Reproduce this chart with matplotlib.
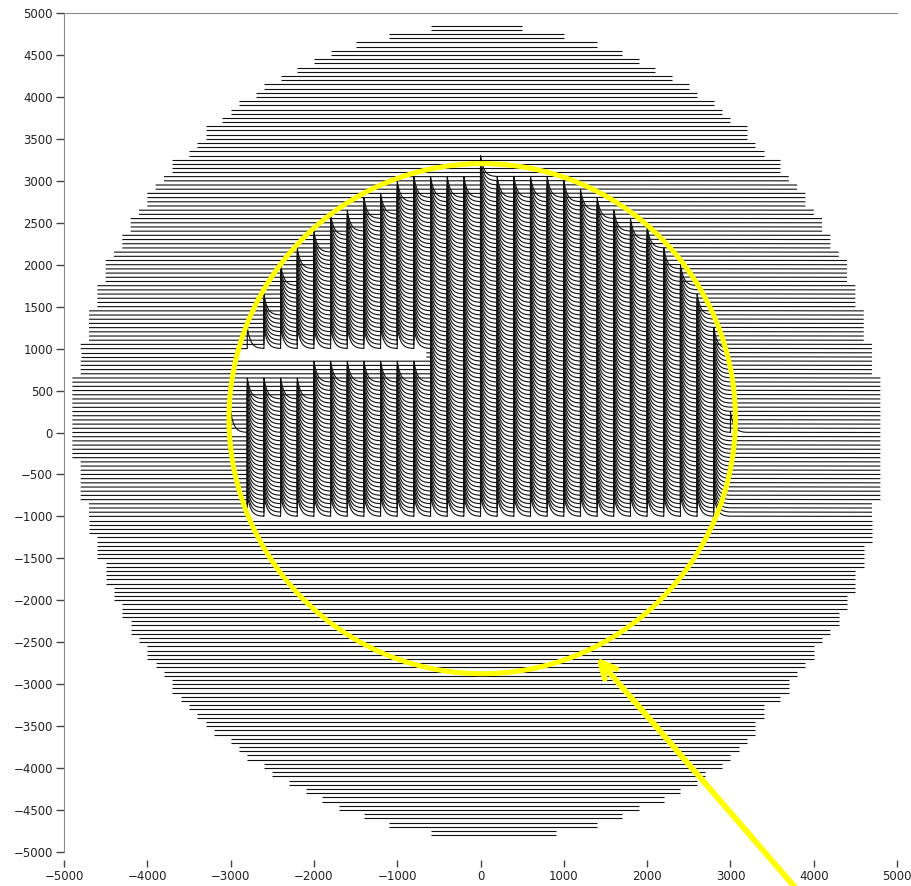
import numpy as np
import matplotlib
matplotlib.use("Agg")
import matplotlib.pyplot as plt
from matplotlib.collections import LineCollection

# ---- scan-line rows (pairs of rows 50 apart share the same extents) ----
PAIR_TOP = list(range(4850, -4751, -100))
LEFT = [-600, -1100, -1500, -1800, -2000, -2200, -2400, -2600, -2700, -2900,
        -3000, -3100, -3300, -3300, -3400, -3500, -3700, -3700, -3800, -3900,
        -4000, -4000, -4100, -4200, -4200, -4300, -4300, -4400, -4500, -4500,
        -4500, -4600, -4600, -4600, -4700, -4700, -4700, -4700, -4800, -4800,
        -4800, -4800, -4900, -4900, -4900, -4900, -4900, -4900, -4900, -4900,
        -4900, -4900, -4800, -4800, -4800, -4800, -4800, -4700, -4700, -4700,
        -4700, -4600, -4600, -4600, -4500, -4500, -4500, -4400, -4400, -4300,
        -4300, -4200, -4200, -4100, -4000, -4000, -3900, -3800, -3700, -3700,
        -3600, -3500, -3400, -3300, -3200, -3000, -2900, -2800, -2600, -2500,
        -2300, -2100, -1900, -1700, -1400, -1100, -600]
RIGHT = [500, 1000, 1400, 1700, 1900, 2100, 2300, 2500, 2600, 2800,
         2900, 3000, 3200, 3200, 3300, 3400, 3600, 3600, 3700, 3800,
         3900, 3900, 4000, 4100, 4100, 4200, 4200, 4300, 4400, 4400,
         4400, 4500, 4500, 4500, 4600, 4600, 4600, 4600, 4700, 4700,
         4700, 4700, 4800, 4800, 4800, 4800, 4800, 4800, 4800, 4800,
         4800, 4800, 4800, 4800, 4800, 4800, 4800, 4700, 4700, 4700,
         4700, 4700, 4600, 4600, 4600, 4500, 4500, 4500, 4400, 4400,
         4300, 4300, 4200, 4100, 4000, 4000, 3900, 3800, 3700, 3700,
         3600, 3400, 3400, 3300, 3300, 3200, 3100, 3000, 2900, 2700,
         2600, 2400, 2200, 1900, 1700, 1400, 900]

# ---- die columns: signal spikes on the scan lines ----
COL_X = [-3000, -2800, -2600, -2400, -2200, -2000, -1800, -1600, -1400, -1200,
         -1000, -800, -600, -400, -200, 0, 200, 400, 600, 800,
         1000, 1200, 1400, 1600, 1800, 2000, 2200, 2400, 2600, 2800, 3000]
BLOCK_TOP = [0, 1000, 1400, 1750, 1950, 2150, 2350, 2400, 2550, 2600,
             2750, 2800, 2800, 2800, 2800, 3050, 2800, 2800, 2800, 2800,
             2750, 2650, 2550, 2400, 2300, 2200, 1950, 1750, 1400, 1000, 0]
BLOCK_BOTTOM = [0] + [-1000] * 29 + [0]
# columns with a missing band of dies (lower block ends lower)
GAP_COLS = [-2800, -2600, -2400, -2200, -2000, -1800, -1600, -1400, -1200, -1000, -800]
LOWER_TOP = [400, 400, 400, 400, 600, 600, 600, 600, 600, 600, 600]
UPPER_BOTTOM = 1000
GAP_ROWS = [900, 950]
GAP_X = [-2950, -650]

SPIKE_H = 250
SPIKE_TAU = 42

# ---- annotations ----
CIRCLE_CENTER = (20, 165)
CIRCLE_R = 3040
ARROW_HEAD = (1390, -2680)
ARROW_TAIL = (3800, -5450)


def spikes_for_row(y):
    out = []
    for i, xc in enumerate(COL_X):
        lo, hi = BLOCK_BOTTOM[i], BLOCK_TOP[i]
        if not (lo <= y <= hi):
            continue
        if xc in GAP_COLS:
            lt = LOWER_TOP[GAP_COLS.index(xc)]
            if not (y <= lt or y >= UPPER_BOTTOM):
                continue
        out.append(xc)
    return out


def row_path(y, xl, xr, spikes):
    xs, ys = [xl], [y]
    t = np.linspace(0, 195, 40)
    for xc in sorted(spikes):
        if xc < xl or xc > xr:
            continue
        xs.append(xc); ys.append(y)
        xs.extend(list(xc + t)); ys.extend(list(y + SPIKE_H * np.exp(-t / SPIKE_TAU)))
    xs.append(xr); ys.append(y)
    return np.column_stack([xs, ys])


segments = []
for i, yt in enumerate(PAIR_TOP):
    for y in (yt, yt - 50):
        xl, xr = LEFT[i], RIGHT[i]
        if y in GAP_ROWS:
            segments.append(row_path(y, xl, GAP_X[0], []))
            segments.append(row_path(y, GAP_X[1], xr, spikes_for_row(y)))
        else:
            segments.append(row_path(y, xl, xr, spikes_for_row(y)))

fig = plt.figure(figsize=(9.12, 8.86), dpi=100)
ax = fig.add_axes([0.0702, 0.0384, 0.9134, 0.9469])

lc = LineCollection(segments, colors="#111111", linewidths=0.8)
ax.add_collection(lc)

theta = np.linspace(0, 2 * np.pi, 400)
ax.plot(CIRCLE_CENTER[0] + CIRCLE_R * np.cos(theta),
        CIRCLE_CENTER[1] + CIRCLE_R * np.sin(theta),
        color="#ffff00", lw=3.6, zorder=5)

ax.annotate("", xy=ARROW_HEAD, xytext=ARROW_TAIL, annotation_clip=False,
            arrowprops=dict(arrowstyle="->,head_length=1.1,head_width=0.55",
                            color="#ffff00", lw=4.2, shrinkA=0, shrinkB=0),
            zorder=6)

ax.set_xlim(-5000, 5000)
ax.set_ylim(-5000, 5000)
ax.set_xticks(np.arange(-5000, 5001, 1000))
ax.set_yticks(np.arange(-5000, 5001, 500))

ax.spines["right"].set_visible(False)
ax.spines["bottom"].set_position(("outward", 6))
ax.spines["bottom"].set_color("none")
ax.spines["left"].set_color("#8a8a8a")
ax.spines["top"].set_color("#8a8a8a")
ax.tick_params(axis="both", direction="out", length=6, width=1, color="#444444",
               labelsize=8.5, labelcolor="#222222")
ax.tick_params(axis="x", pad=2, length=5)
ax.tick_params(axis="y", pad=2)

fig.savefig("out.png", dpi=100)
